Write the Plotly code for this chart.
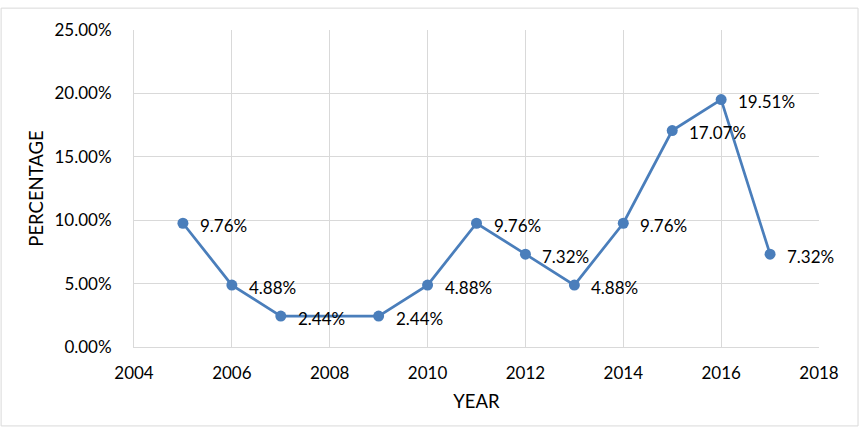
import plotly.graph_objects as go

years = [2005, 2006, 2007, 2009, 2010, 2011, 2012, 2013, 2014, 2015, 2016, 2017]
percent = [9.76, 4.88, 2.44, 2.44, 4.88, 9.76, 7.32, 4.88, 9.76, 17.07, 19.51, 7.32]
labels = ["9.76%", "4.88%", "2.44%", "2.44%", "4.88%", "9.76%", "7.32%", "4.88%",
          "9.76%", "17.07%", "19.51%", "7.32%"]
x_ticks = [2004, 2006, 2008, 2010, 2012, 2014, 2016, 2018]
y_ticks = [0, 5, 10, 15, 20, 25]
y_tick_labels = ["0.00%", "5.00%", "10.00%", "15.00%", "20.00%", "25.00%"]

FONT = "Lato, Carlito, 'Liberation Sans', sans-serif"
BLUE = "#4A7EBB"
GRID = "#D9D9D9"

fig = go.Figure()
fig.add_trace(go.Scatter(
    x=years, y=[v / 100 for v in percent], mode="lines+markers",
    line=dict(color=BLUE, width=2.75),
    marker=dict(color=BLUE, size=11),
    hoverinfo="skip", showlegend=False,
))

for xv, yv, lab in zip(years, percent, labels):
    fig.add_annotation(x=xv, y=yv / 100, text=lab, showarrow=False,
                       xanchor="left", yanchor="middle", xshift=15, yshift=-2,
                       font=dict(family=FONT, size=17, color="#000000"))

fig.update_layout(
    width=864, height=428,
    margin=dict(l=134, r=45, t=30, b=81),
    paper_bgcolor="white", plot_bgcolor="white",
    font=dict(family=FONT, size=17, color="#000000"),
    xaxis=dict(range=[2004, 2018], tickvals=x_ticks, ticktext=[str(t) for t in x_ticks],
               showgrid=True, gridcolor=GRID, gridwidth=1, zeroline=False,
               showline=True, linecolor=GRID, linewidth=1,
               ticks="", ticklabelstandoff=11,
               title=dict(text="YEAR", font=dict(family=FONT, size=18.5), standoff=12)),
    yaxis=dict(range=[0, 0.25], tickvals=[v / 100 for v in y_ticks], ticktext=y_tick_labels,
               showgrid=True, gridcolor=GRID, gridwidth=1, zeroline=False,
               showline=True, linecolor=GRID, linewidth=1,
               ticks="", ticklabelstandoff=18,
               title=dict(text="PERCENTAGE", font=dict(family=FONT, size=18.5), standoff=6)),
)

fig.add_shape(type="rect", xref="paper", yref="paper",
              x0=-0.194, x1=1.057, y0=-0.249, y1=1.069,
              line=dict(color=GRID, width=1), fillcolor="rgba(0,0,0,0)")

fig.write_html("out.html")
